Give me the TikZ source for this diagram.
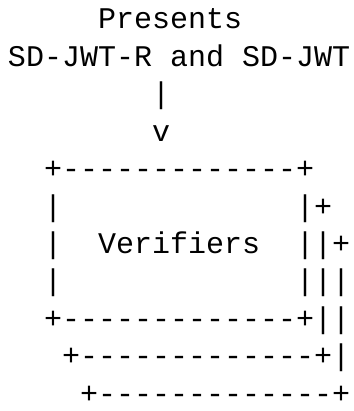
\documentclass[tikz,border=0pt]{standalone}
\usepackage{fontspec}
\setmonofont{Liberation Mono}
\begin{document}
\begin{tikzpicture}[x=1pt,y=-1pt,
  asc/.style={anchor=base west, inner sep=0pt, outer sep=0pt,
    font=\ttfamily\fontsize{30}{36}\selectfont}]
\useasboundingbox (0,0) rectangle (353,411);
\node[asc] (r0)  at (98,29)    {Presents};
\node[asc] (r1)  at (8,66.4)   {SD-JWT-R~and~SD-JWT};
\node[asc] (r2)  at (152,103.8) {|};
\node[asc] (r3)  at (152,141.2) {v};
\node[asc] (r4)  at (44,178.6) {+-------------+};
\node[asc] (r5)  at (44,216)   {|~~~~~~~~~~~~~|+};
\node[asc] (r6)  at (44,253.4) {|~~Verifiers~~||+};
\node[asc] (r7)  at (44,290.8) {|~~~~~~~~~~~~~|||};
\node[asc] (r8)  at (44,328.2) {+-------------+||};
\node[asc] (r9)  at (62,365.6) {+-------------+|};
\node[asc] (r10) at (80,403)   {+-------------+};
\end{tikzpicture}
\end{document}
